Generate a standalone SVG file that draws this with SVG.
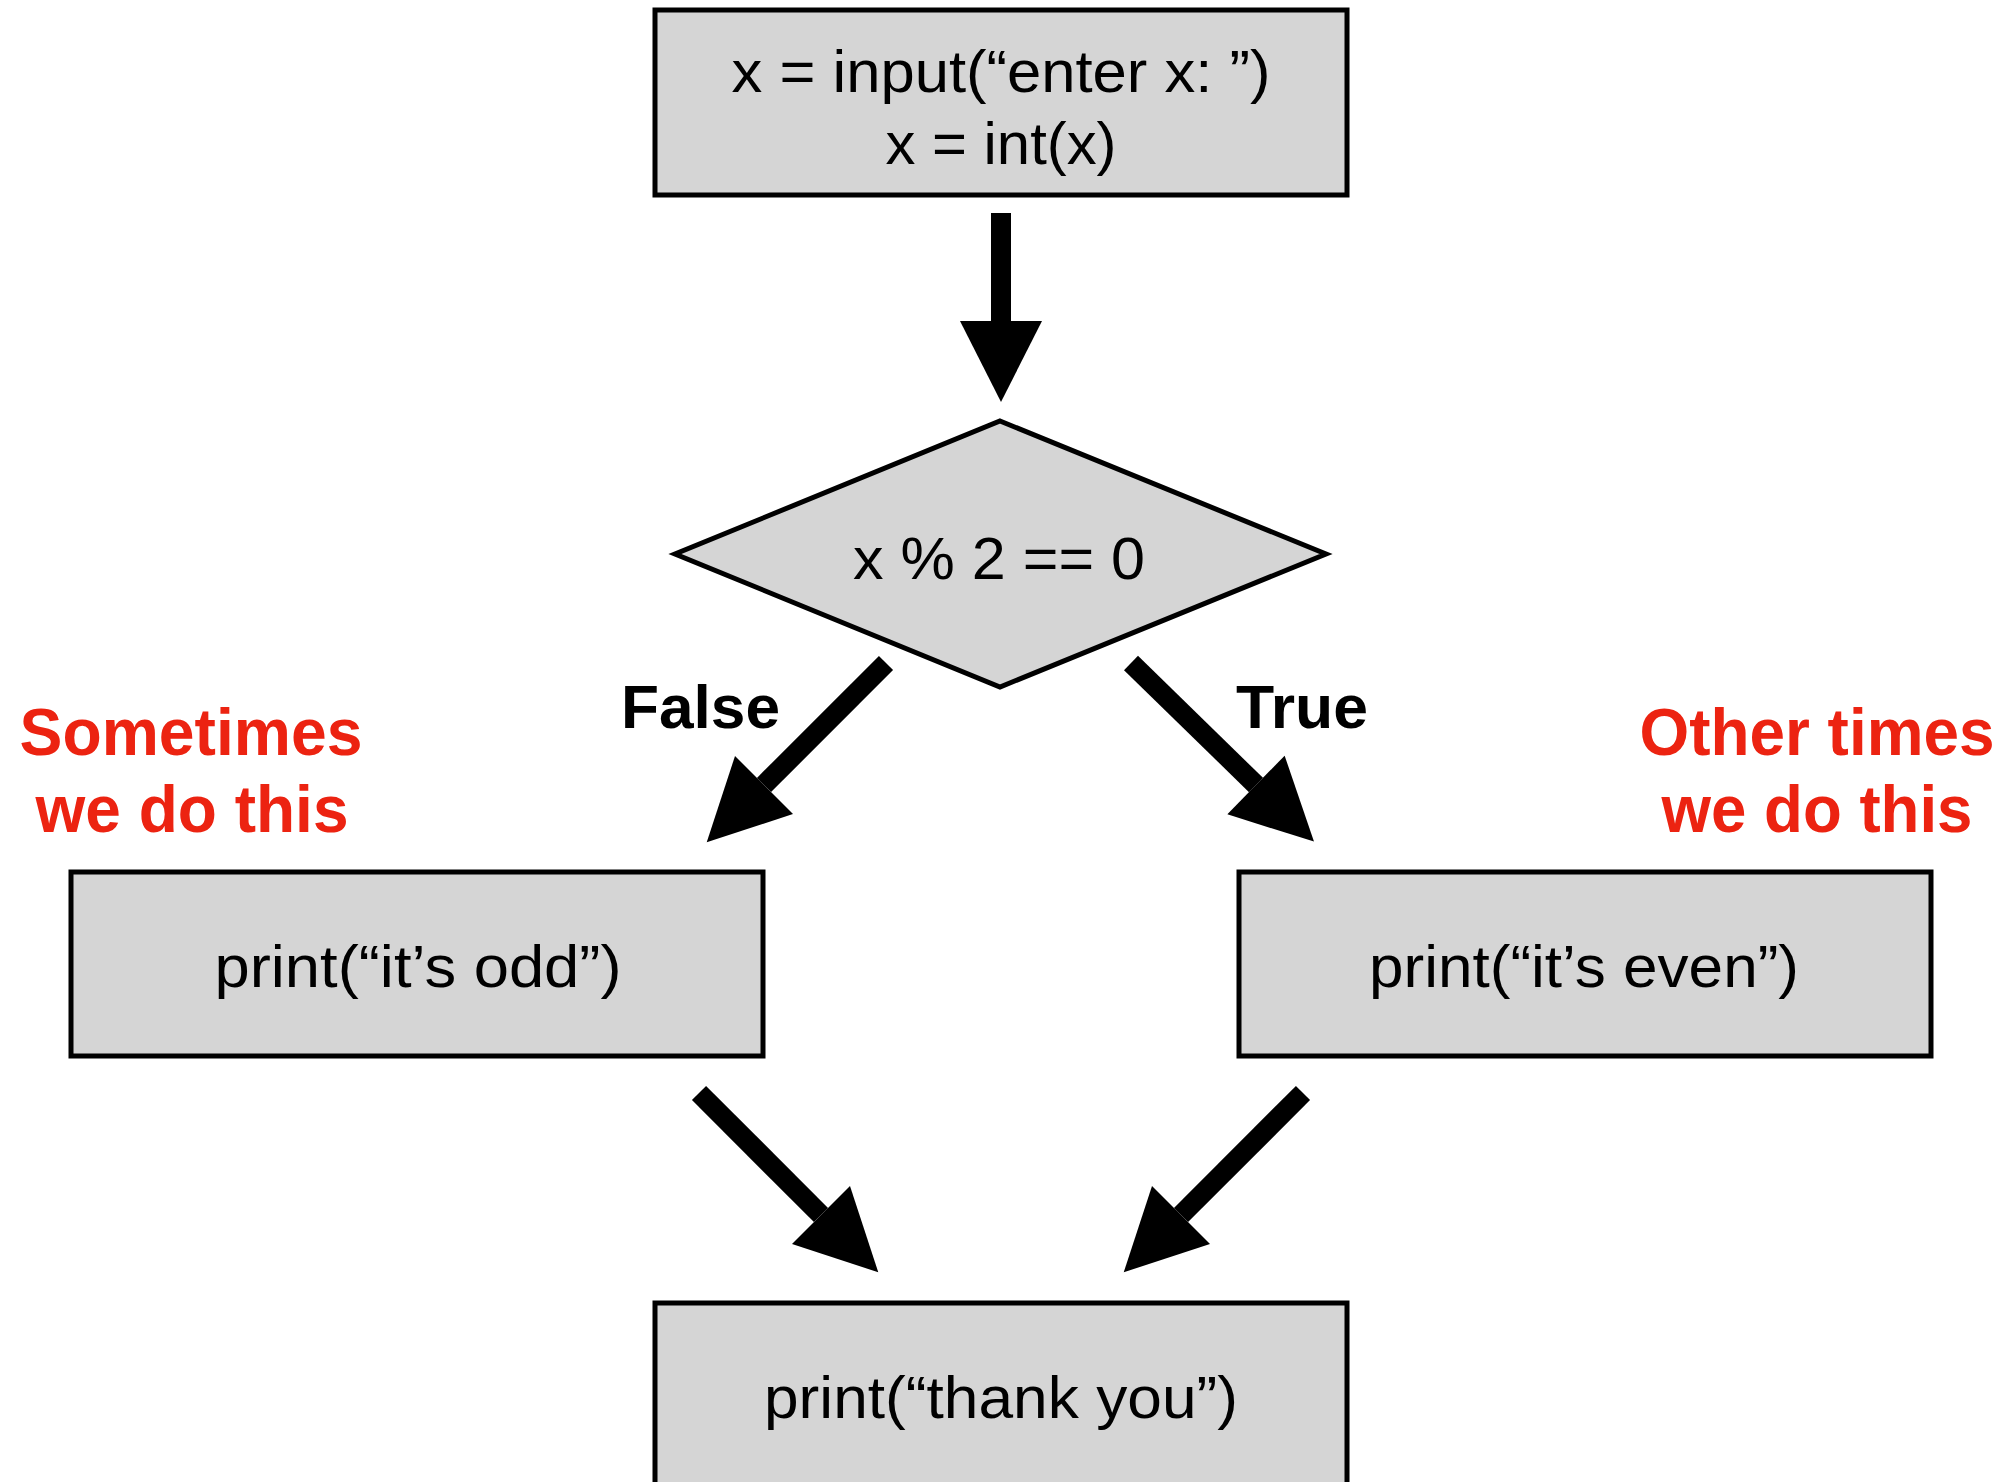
<svg xmlns="http://www.w3.org/2000/svg" width="2012" height="1482" viewBox="0 0 2012 1482">
  <style>
    .box { fill: #d5d5d5; stroke: #000; stroke-width: 5; }
    .code { font-family: "Liberation Sans", Arial, sans-serif; font-size: 60px; fill: #000; text-anchor: middle; }
    .label { font-family: "Liberation Sans", Arial, sans-serif; font-weight: bold; font-size: 61px; fill: #000; }
    .note { font-family: "Liberation Sans", Arial, sans-serif; font-weight: bold; font-size: 66px; fill: #ec2311; text-anchor: middle; }
    .shaft { stroke: #000; stroke-width: 20; fill: none; marker-end: url(#head); }
  </style>
  <defs>
    <marker id="head" markerUnits="userSpaceOnUse" markerWidth="90" markerHeight="90" refX="0" refY="0" orient="auto" overflow="visible">
      <path d="M0,-41 L81,0 L0,41 Z" fill="#000"/>
    </marker>
  </defs>
  <rect width="2012" height="1482" fill="#fff"/>

  <!-- connectors -->
  <g id="connectors">
    <line class="shaft" x1="1001" y1="213" x2="1001" y2="321"/>
    <line class="shaft" x1="886" y1="663" x2="764" y2="785"/>
    <line class="shaft" x1="1131" y1="663" x2="1256" y2="785"/>
    <line class="shaft" x1="699" y1="1093" x2="821" y2="1215"/>
    <line class="shaft" x1="1303" y1="1093" x2="1181" y2="1215"/>
  </g>

  <!-- input step -->
  <g id="node-input">
    <rect class="box" x="655" y="10" width="692" height="185"/>
    <text class="code" x="1001" y="92" textLength="539" lengthAdjust="spacingAndGlyphs">x = input(“enter x: ”)</text>
    <text class="code" x="1001" y="164" textLength="231" lengthAdjust="spacingAndGlyphs">x = int(x)</text>
  </g>

  <!-- parity test -->
  <g id="node-test">
    <polygon class="box" points="1000,421 1326,554 1000,687 675,554"/>
    <text class="code" x="999" y="579" textLength="292" lengthAdjust="spacingAndGlyphs">x % 2 == 0</text>
  </g>

  <!-- odd branch -->
  <g id="node-odd">
    <rect class="box" x="71" y="872" width="692" height="184"/>
    <text class="code" x="418" y="987" textLength="407" lengthAdjust="spacingAndGlyphs">print(“it’s odd”)</text>
  </g>

  <!-- even branch -->
  <g id="node-even">
    <rect class="box" x="1239" y="872" width="692" height="184"/>
    <text class="code" x="1584" y="987" textLength="430" lengthAdjust="spacingAndGlyphs">print(“it’s even”)</text>
  </g>

  <!-- final step -->
  <g id="node-thanks">
    <rect class="box" x="655" y="1303" width="692" height="190"/>
    <text class="code" x="1001" y="1418" textLength="474" lengthAdjust="spacingAndGlyphs">print(“thank you”)</text>
  </g>

  <!-- branch labels -->
  <g id="label-false"><text class="label" x="621" y="728" textLength="159" lengthAdjust="spacingAndGlyphs">False</text></g>
  <g id="label-true"><text class="label" x="1236" y="728" textLength="132" lengthAdjust="spacingAndGlyphs">True</text></g>

  <!-- annotations -->
  <g id="note-left">
    <text class="note" x="191" y="755" textLength="343" lengthAdjust="spacingAndGlyphs">Sometimes</text>
    <text class="note" x="192" y="832" textLength="313" lengthAdjust="spacingAndGlyphs">we do this</text>
  </g>
  <g id="note-right">
    <text class="note" x="1817" y="755" textLength="355" lengthAdjust="spacingAndGlyphs">Other times</text>
    <text class="note" x="1817" y="832" textLength="311" lengthAdjust="spacingAndGlyphs">we do this</text>
  </g>
</svg>
